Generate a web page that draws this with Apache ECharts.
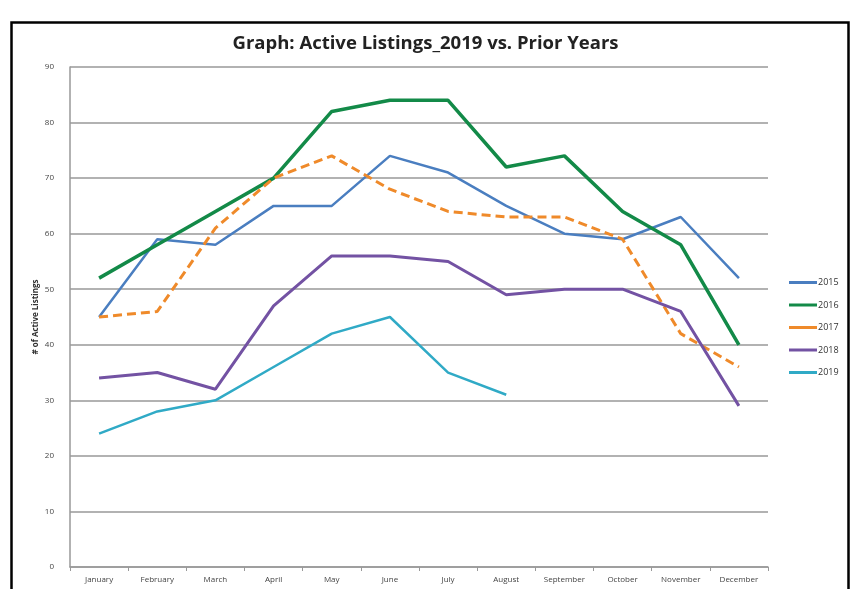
<!DOCTYPE html>
<html>
<head>
<meta charset="utf-8">
<script src="https://cdn.jsdelivr.net/npm/echarts@6/dist/echarts.min.js"></script>
<style>
html,body{margin:0;padding:0;background:#fff;}
#chart{width:851px;height:589px;}
</style>
</head>
<body>
<div id="chart"></div>
<script>
const months = ['January','February','March','April','May','June','July','August','September','October','November','December'];
const s2015 = [45, 59, 58, 65, 65, 74, 71, 65, 60, 59, 63, 52];
const s2016 = [52, 58, 64, 70, 82, 84, 84, 72, 74, 64, 58, 40];
const s2017 = [45, 46, 61, 70, 74, 68, 64, 63, 63, 59, 42, 36];
const s2018 = [34, 35, 32, 47, 56, 56, 55, 49, 50, 50, 46, 29];
const s2019 = [24, 28, 30, 36, 42, 45, 35, 31];
const yTicks = [0, 10, 20, 30, 40, 50, 60, 70, 80, 90];

const chart = echarts.init(document.getElementById('chart'));
function line(name, data, color, width, dashed) {
  return {
    name: name, type: 'line', data: data, symbol: 'none', smooth: false,
    lineStyle: {color: color, width: width, type: dashed ? [9, 5] : 'solid'},
    itemStyle: {color: color}
  };
}
chart.setOption({
  animation: false,
  backgroundColor: '#fff',
  graphic: [{
    type: 'rect', left: 9, top: 20,
    shape: {width: 837, height: 580},
    style: {fill: 'none', stroke: '#000', lineWidth: 2.5}
  }],
  title: {
    text: 'Graph: Active Listings_2019 vs. Prior Years',
    left: 'center', top: 29,
    textStyle: {fontFamily: 'Open Sans', fontWeight: 'bold', fontSize: 18.5, color: '#222'}
  },
  legend: {
    orient: 'vertical', left: 784, top: 273,
    itemWidth: 28, itemHeight: 12, itemGap: 13.5,
    icon: 'path://M0,5 L28,5 L28,8 L0,8 Z',
    textStyle: {fontSize: 9, color: '#333', fontFamily: 'Open Sans', padding: [0, 0, 0, -4]},
    data: ['2015', '2016', '2017', '2018', '2019']
  },
  grid: {left: 70, right: 83, top: 67, bottom: 22},
  xAxis: {
    type: 'category', data: months, boundaryGap: true,
    axisLine: {lineStyle: {color: '#999', width: 1.5}},
    axisTick: {show: true, length: 4, lineStyle: {color: '#999'}},
    axisLabel: {fontSize: 8, color: '#444', margin: 9, interval: 0, fontFamily: 'Open Sans'}
  },
  yAxis: {
    type: 'value', min: 0, max: 90, interval: 10,
    name: '# of Active Listings', nameLocation: 'middle', nameGap: 30, nameMoveOverlap: false,
    nameTextStyle: {fontSize: 8, fontWeight: 'bold', color: '#333', fontFamily: 'Open Sans'},
    axisLine: {show: true, lineStyle: {color: '#999', width: 1.5}},
    axisTick: {show: false},
    splitLine: {lineStyle: {color: '#999', width: 1.5}},
    axisLabel: {fontSize: 8, color: '#444', margin: 16, fontFamily: 'Open Sans',
      formatter: v => yTicks.includes(v) ? String(v) : ''}
  },
  series: [
    line('2015', s2015, '#4a7ec0', 2.5, false),
    line('2016', s2016, '#138a48', 3.5, false),
    line('2017', s2017, '#ef8a2a', 3, true),
    line('2018', s2018, '#7352a3', 3, false),
    line('2019', s2019, '#30aac6', 2.5, false)
  ]
});
</script>
</body>
</html>
